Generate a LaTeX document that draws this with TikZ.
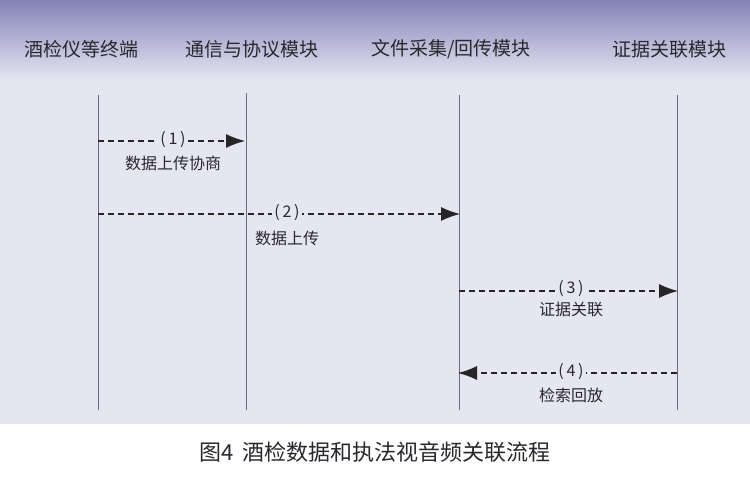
\documentclass[tikz,border=0pt]{standalone}
\usepackage{fontspec}
\setmainfont{Noto Sans CJK SC}
\usetikzlibrary{arrows.meta}
\definecolor{panel}{RGB}{230,230,242}
\definecolor{bandtop}{RGB}{132,131,184}
\definecolor{lifegray}{RGB}{105,105,120}
\definecolor{textgray}{RGB}{40,40,45}
\tikzset{
	lifeline/.style={lifegray,line width=0.9pt},
	msg/.style={dash pattern=on 6pt off 4pt,line width=1.2pt,black!85,-{Latex[length=19pt,width=14pt]}},
	num/.style={fill=panel,inner xsep=2pt,inner ysep=0pt,text=textgray,font=\fontsize{16}{18}\selectfont},
	msgtext/.style={text=textgray,font=\fontsize{16}{18}\selectfont},
	head/.style={text=textgray,font=\fontsize{19}{22}\selectfont}
}
\begin{document}
\begin{tikzpicture}[x=1pt,y=-1pt]
	\useasboundingbox (0,0) rectangle (750,481);
	% background
	\fill[white] (0,0) rectangle (750,481);
	\fill[panel] (0,80) rectangle (750,424);
	\shade[top color=bandtop,bottom color=panel] (0,0) rectangle (750,80.5);
	% headers
	\node[head] (term) at (81,49) {酒检仪等终端};
	\node[head] (comm) at (252,49) {通信与协议模块};
	\node[head] (file) at (451,49) {文件采集/回传模块};
	\node[head] (evid) at (669,49) {证据关联模块};
	% lifelines
	\coordinate (t1) at (98,95);   \coordinate (b1) at (98,410);
	\coordinate (t2) at (246,93);  \coordinate (b2) at (246,410);
	\coordinate (t3) at (459,95);  \coordinate (b3) at (459,410);
	\coordinate (t4) at (677,95);  \coordinate (b4) at (677,410);
	\foreach \i in {1,...,4}
		\draw[lifeline] (t\i) -- (b\i);
	% messages
	\coordinate (s1) at (98,141);  \coordinate (e1) at (245,141);
	\coordinate (s2) at (98,214);  \coordinate (e2) at (460,214);
	\coordinate (s3) at (459,291); \coordinate (e3) at (678,291);
	\coordinate (s4) at (677,373); \coordinate (e4) at (458,373);
	\draw[msg] (s1) -- (e1);
	\draw[msg] (s2) -- (e2);
	\draw[msg] (s3) -- (e3);
	\draw[msg] (s4) -- (e4);
	\node[num] (n1) at (173,140) {(\,1\,)};
	\node[num] (n2) at (287,213) {(\,2\,)};
	\node[num] (n3) at (571,289) {(\,3\,)};
	\node[num] (n4) at (571,372) {(\,4\,)};
	\node[msgtext] (m1) at (173,163) {数据上传协商};
	\node[msgtext] (m2) at (287,238) {数据上传};
	\node[msgtext] (m3) at (571,309) {证据关联};
	\node[msgtext] (m4) at (571,395) {检索回放};
	% caption
	\node[text=textgray,font=\fontsize{22}{26}\selectfont] (cap) at (375,452) {图4\hspace{0.4em}酒检数据和执法视音频关联流程};
\end{tikzpicture}
\end{document}
